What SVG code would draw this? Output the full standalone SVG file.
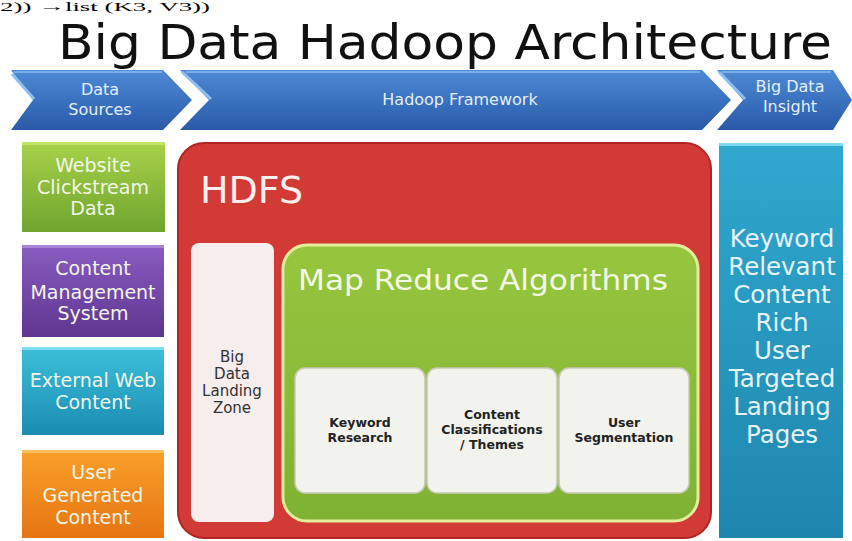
<svg xmlns="http://www.w3.org/2000/svg" width="852" height="541" viewBox="0 0 852 541">
<defs>
<linearGradient id="gBlue" x1="0" y1="0" x2="0" y2="1"><stop offset="0" stop-color="#4f8ad4"/><stop offset="0.5" stop-color="#3a72c0"/><stop offset="1" stop-color="#2a5aa8"/></linearGradient>
<linearGradient id="gGreen" x1="0" y1="0" x2="0" y2="1"><stop offset="0" stop-color="#a8d24a"/><stop offset="1" stop-color="#6fa52e"/></linearGradient>
<linearGradient id="gPurple" x1="0" y1="0" x2="0" y2="1"><stop offset="0" stop-color="#8a5cc0"/><stop offset="1" stop-color="#5e3590"/></linearGradient>
<linearGradient id="gTeal" x1="0" y1="0" x2="0" y2="1"><stop offset="0" stop-color="#3cc0da"/><stop offset="1" stop-color="#1a8cb2"/></linearGradient>
<linearGradient id="gOrange" x1="0" y1="0" x2="0" y2="1"><stop offset="0" stop-color="#f9a02a"/><stop offset="1" stop-color="#e67512"/></linearGradient>
<linearGradient id="gInsight" x1="0" y1="0" x2="0" y2="1"><stop offset="0" stop-color="#30a8cf"/><stop offset="1" stop-color="#1f86ae"/></linearGradient>
<linearGradient id="gMR" x1="0" y1="0" x2="0" y2="1"><stop offset="0" stop-color="#97c63e"/><stop offset="1" stop-color="#7fb234"/></linearGradient>
<style>
.ban{fill:url(#gBlue)}
.hl{fill:none;stroke:#8cc0f0;stroke-width:3}
.bt{font-family:"DejaVu Sans",Verdana,sans-serif;font-size:16px;fill:#e4eefa;text-anchor:middle}
.src{font-family:"DejaVu Sans",Verdana,sans-serif;font-size:19px;fill:#f2f6e8;text-anchor:middle}
.in{font-family:"DejaVu Sans",Verdana,sans-serif;font-size:12.5px;font-weight:bold;fill:#222;text-anchor:middle}
.lz{font-family:"DejaVu Sans",Verdana,sans-serif;font-size:15px;fill:#333;text-anchor:middle}
.ins{font-family:"DejaVu Sans",Verdana,sans-serif;font-size:24.5px;fill:#e6f4fa;text-anchor:middle}
.card{fill:#f3f3ee;stroke:#c8c8b8;stroke-width:1.5}
</style>
</defs>
<rect width="852" height="541" fill="#ffffff"/>
<text x="0" y="11" font-family="Liberation Serif,serif" font-size="13" fill="#000" textLength="210" lengthAdjust="spacingAndGlyphs">2)) →list (K3, V3))</text>
<text x="58" y="59" font-family="DejaVu Sans,Verdana,sans-serif" font-size="48" fill="#111" textLength="774" lengthAdjust="spacingAndGlyphs">Big Data Hadoop Architecture</text>

<g id="banner">
<g id="ban-sources">
<polygon class="ban" points="11,70 163,70 192,100 163,130 11,130 33,100"/>
<polyline class="hl" points="12,74 34,99"/>
<line x1="14" y1="72" x2="162" y2="72" stroke="#7aaee6" stroke-width="2"/>
<text class="bt" x="100" y="95">Data</text>
<text class="bt" x="100" y="115">Sources</text>
</g>
<g id="ban-hadoop">
<polygon class="ban" points="180,70 702,70 731,100 702,130 180,130 209,100"/>
<polyline class="hl" points="182,72 211,99"/>
<line x1="186" y1="72" x2="700" y2="72" stroke="#7aaee6" stroke-width="2"/>
<text class="bt" x="460" y="105">Hadoop Framework</text>
</g>
<g id="ban-insight">
<polygon class="ban" points="717,70 833,70 852,100 833,130 717,130 743,100"/>
<polyline class="hl" points="719,72 745,99"/>
<line x1="722" y1="72" x2="831" y2="72" stroke="#7aaee6" stroke-width="2"/>
<text class="bt" x="790" y="92">Big Data</text>
<text class="bt" x="790" y="112">Insight</text>
</g>
</g>

<g id="src-website">
<rect x="22" y="142" width="143" height="90" fill="url(#gGreen)"/>
<rect x="22" y="142" width="143" height="3" fill="#c4e46a"/>
<text class="src" x="93" y="172">Website</text>
<text class="src" x="93" y="194">Clickstream</text>
<text class="src" x="93" y="215">Data</text>
</g>
<g id="src-cms">
<rect x="22" y="245" width="142" height="92" fill="url(#gPurple)"/>
<rect x="22" y="245" width="142" height="3" fill="#a884d8"/>
<text class="src" x="93" y="275">Content</text>
<text class="src" x="93" y="299">Management</text>
<text class="src" x="93" y="320">System</text>
</g>
<g id="src-external">
<rect x="22" y="347" width="142" height="88" fill="url(#gTeal)"/>
<rect x="22" y="347" width="142" height="3" fill="#7ee0f0"/>
<text class="src" x="93" y="387">External Web</text>
<text class="src" x="93" y="409">Content</text>
</g>
<g id="src-ugc">
<rect x="22" y="450" width="142" height="88" fill="url(#gOrange)"/>
<rect x="22" y="450" width="142" height="3" fill="#fcc060"/>
<text class="src" x="93" y="479">User</text>
<text class="src" x="93" y="502">Generated</text>
<text class="src" x="93" y="524">Content</text>
</g>

<g id="hdfs">
<rect x="178" y="143" width="533" height="395" rx="26" fill="#d23a36" stroke="#b02424" stroke-width="2"/>
<text x="200" y="203" font-family="DejaVu Sans,Verdana,sans-serif" font-size="38" fill="#fbeeee">HDFS</text>
</g>
<g id="landing-zone">
<rect x="191" y="243" width="83" height="279" rx="8" fill="#f6eded"/>
<text class="lz" x="232" y="362">Big</text>
<text class="lz" x="232" y="379">Data</text>
<text class="lz" x="232" y="396">Landing</text>
<text class="lz" x="232" y="413">Zone</text>
</g>
<g id="map-reduce">
<rect x="283" y="245" width="415" height="276" rx="24" fill="url(#gMR)" stroke="#e4ee9a" stroke-width="3"/>
<text x="298" y="290" font-family="DejaVu Sans,Verdana,sans-serif" font-size="28" fill="#f2f8e4" textLength="370" lengthAdjust="spacingAndGlyphs">Map Reduce Algorithms</text>
</g>
<g id="keyword-research">
<rect class="card" x="295" y="368" width="130" height="125" rx="10"/>
<text class="in" x="360" y="427">Keyword</text>
<text class="in" x="360" y="442">Research</text>
</g>
<g id="content-classifications">
<rect class="card" x="427" y="368" width="130" height="125" rx="10"/>
<text class="in" x="492" y="419">Content</text>
<text class="in" x="492" y="434">Classifications</text>
<text class="in" x="492" y="449">/ Themes</text>
</g>
<g id="user-segmentation">
<rect class="card" x="559" y="368" width="130" height="125" rx="10"/>
<text class="in" x="624" y="427">User</text>
<text class="in" x="624" y="442">Segmentation</text>
</g>

<g id="insight">
<rect x="719" y="143" width="124" height="395" fill="url(#gInsight)"/>
<rect x="719" y="143" width="124" height="3" fill="#7ed8f0"/>
<text class="ins" x="782" y="247">Keyword</text>
<text class="ins" x="782" y="275">Relevant</text>
<text class="ins" x="782" y="303">Content</text>
<text class="ins" x="782" y="331">Rich</text>
<text class="ins" x="782" y="359">User</text>
<text class="ins" x="782" y="387">Targeted</text>
<text class="ins" x="782" y="415">Landing</text>
<text class="ins" x="782" y="443">Pages</text>
</g>
<g id="connectors"/>
</svg>
